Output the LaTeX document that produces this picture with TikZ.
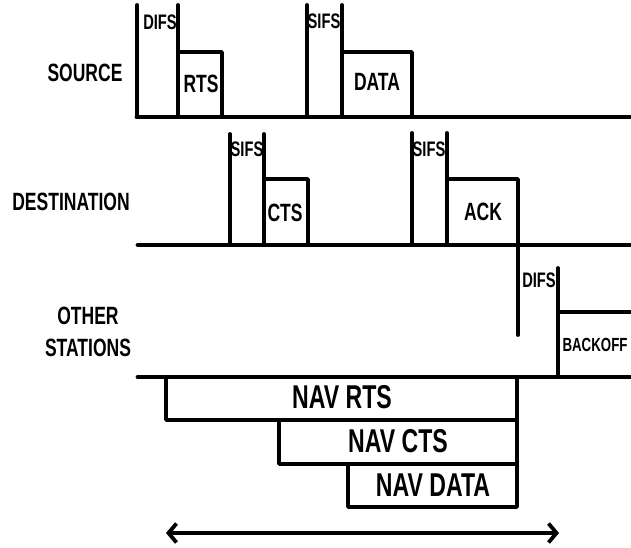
\documentclass[tikz,border=0pt]{standalone}
\usepackage{fontspec}
\setmainfont{Liberation Sans}[FakeStretch=0.7]
\usepackage{tikz}
\usetikzlibrary{arrows.meta}

\begin{document}
\begin{tikzpicture}[x=1pt, y=-1pt,
  line cap=round, line join=round,
  sig/.style={line width=3.8pt},
  axis/.style={line width=4.8pt},
  bigl/.style={inner sep=0pt, font=\bfseries\fontsize{25}{32}\selectfont, align=center},
  ifsl/.style={inner sep=0pt, font=\bfseries\fontsize{21}{25}\selectfont},
  navl/.style={inner sep=0pt, font=\bfseries\fontsize{33}{40}\selectfont}]
  \useasboundingbox (0,0) rectangle (631,548);
  % station names
  \node[bigl] (src) at (85,73) {SOURCE};
  \node[bigl] (dst) at (71,202) {DESTINATION};
  \node[bigl] (oth) at (88,332) {OTHER\\STATIONS};
  % source
  \draw[axis] (137,117) -- (631,117);
  \draw[sig] (137,5) -- (137,117);
  \draw[sig] (178,5) -- (178,117);
  \draw[sig] (178,52) -- (222,52) -- (222,117);
  \draw[sig] (307,5) -- (307,117);
  \draw[sig] (342,5) -- (342,117);
  \draw[sig] (342,52) -- (412,52) -- (412,117);
  \node[ifsl] (difs1) at (160,22) {DIFS};
  \node[bigl] (rts) at (201,84) {RTS};
  \node[ifsl] (sifs1) at (324,21) {SIFS};
  \node[bigl] (data) at (377,82) {DATA};
  % destination
  \draw[axis] (138,245) -- (631,245);
  \draw[sig] (230,134) -- (230,245);
  \draw[sig] (264,134) -- (264,245);
  \draw[sig] (264,179) -- (308,179) -- (308,245);
  \draw[sig] (412,133) -- (412,245);
  \draw[sig] (447,133) -- (447,245);
  \draw[sig] (447,179) -- (518,179) -- (518,335);
  \node[ifsl] (sifs2) at (247,149) {SIFS};
  \node[bigl] (cts) at (285,213) {CTS};
  \node[ifsl] (sifs3) at (429,149) {SIFS};
  \node[bigl] (ack) at (483,212) {ACK};
  % other stations
  \draw[axis] (138,377) -- (631,377);
  \draw[sig] (558,268) -- (558,377);
  \draw[sig] (558,312) -- (631,312);
  \node[ifsl] (difs2) at (539,280) {DIFS};
  \node[inner sep=0pt, font=\bfseries\fontsize{19}{23}\selectfont] (boff) at (595,345) {BACKOFF};
  % NAV
  \draw[sig] (166,377) -- (166,420) -- (517,420);
  \draw[sig] (279,420) -- (279,464) -- (517,464);
  \draw[sig] (348,464) -- (348,507) -- (517,507) -- (517,377);
  \node[navl] (navrts) at (342,397) {NAV RTS};
  \node[navl] (navcts) at (398,441) {NAV CTS};
  \node[navl] (navdata) at (433,485) {NAV DATA};
  % span
  \coordinate (l) at (166,533);
  \coordinate (r) at (559,533);
  \draw[sig, {Straight Barb[length=8pt, width=19pt]}-{Straight Barb[length=8pt, width=19pt]}] (l) -- (r);
\end{tikzpicture}
\end{document}
